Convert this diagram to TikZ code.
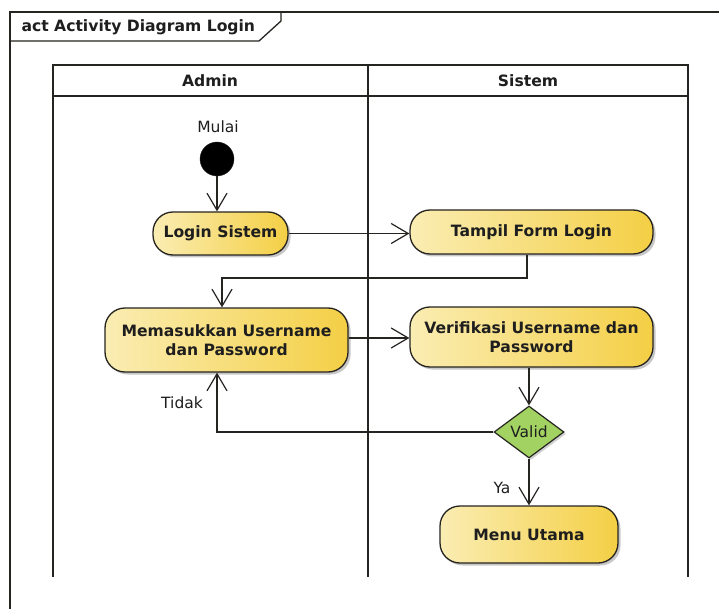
\documentclass[tikz,border=0pt]{standalone}
\usepackage{fontspec}
\setmainfont{DejaVu Sans}
\usetikzlibrary{arrows.meta,shapes.geometric,shadows,calc}

\definecolor{inkline}{HTML}{262420}
\definecolor{actlight}{HTML}{FAEDB3}
\definecolor{actdark}{HTML}{F4CF45}
\definecolor{decfill}{HTML}{A2D261}
\definecolor{txt}{HTML}{1E1E1E}

\tikzset{
  frameline/.style={draw=inkline, line width=1.3pt},
  action/.style={draw=inkline, line width=1.3pt, rounded corners=20pt,
    left color=actlight, right color=actdark, inner sep=0pt,
    align=center, text=txt, font=\fontsize{15.6}{19.5}\selectfont\bfseries,
    drop shadow={shadow xshift=2.5pt, shadow yshift=-2.5pt, opacity=.22, fill=black}},
  decision/.style={diamond, draw=inkline, line width=1.2pt, fill=decfill,
    inner sep=0pt, minimum width=70pt, minimum height=52pt, text=txt,
    font=\fontsize{15.5}{18}\selectfont,
    drop shadow={shadow xshift=2pt, shadow yshift=-2pt, opacity=.18, fill=black}},
  startdot/.style={circle, fill=black, draw=inkline, minimum size=34pt, inner sep=0pt},
  flow/.style={draw=inkline, line width=1.2pt,
    -{Straight Barb[length=17pt, width=20pt, line width=1.2pt]}},
  plain/.style={text=txt, font=\fontsize{15.5}{18}\selectfont},
  head/.style={text=txt, font=\fontsize{15.6}{18}\selectfont\bfseries}
}

\begin{document}
\begin{tikzpicture}[x=1pt, y=-1pt]
\useasboundingbox (0,0) rectangle (719,609);
\fill[white] (0,0) rectangle (719,609);

% outer activity frame with its title tab
\draw[frameline] (10,609) -- (10,12) -- (719,12);
\draw[frameline] (10,41) -- (259,41) -- (281,21) -- (281,12);
\node[head, anchor=west] (title) at (18,27) {act Activity Diagram Login};

% swimlanes
\draw[frameline] (53,577) -- (53,65) -- (688,65) -- (688,577);
\draw[frameline] (53,96) -- (688,96);
\draw[frameline] (368,65) -- (368,577);
\node[head] (laneA) at (210,81) {Admin};
\node[head] (laneS) at (528,81) {Sistem};

% activity nodes
\node[plain] (mulai) at (218,127) {Mulai};
\node[startdot] (start) at (217,159) {};
\node[action, minimum width=135pt, minimum height=43pt] (login) at (220.5,233.5) {Login Sistem};
\node[action, minimum width=243pt, minimum height=44pt] (tampil) at (531.5,232) {Tampil Form Login};
\node[action, minimum width=243pt, minimum height=64pt] (masuk) at (226.5,340) {Memasukkan Username\\dan Password};
\node[action, minimum width=243pt, minimum height=60pt] (verif) at (531.5,337) {Verifikasi Username dan\\Password};
\node[decision] (valid) at (529,432) {Valid};
\node[action, minimum width=178pt, minimum height=57pt] (menu) at (529,534.5) {Menu Utama};

% routing points
\coordinate (tb) at (527,278);
\coordinate (mk) at (222,278);
\coordinate (tk) at (217,432);

% control flows
\draw[flow] (start.south) -- (start.south |- login.north);
\draw[flow] (login.east) -- (login.east -| tampil.west);
\draw[flow] (tampil.south -| tb) -- (tb) -- (mk) -- (mk |- masuk.north);
\draw[flow] (masuk.east |- 0,338) -- (verif.west |- 0,338);
\draw[flow] (verif.south -| valid.north) -- (valid.north);
\draw[flow] (valid.west) -- (tk) -- (tk |- masuk.south);
\draw[flow] (valid.south) -- (menu.north);

% guard labels
\node[plain] (tidak) at (182,403) {Tidak};
\node[plain] (ya) at (502,488) {Ya};
\end{tikzpicture}
\end{document}
